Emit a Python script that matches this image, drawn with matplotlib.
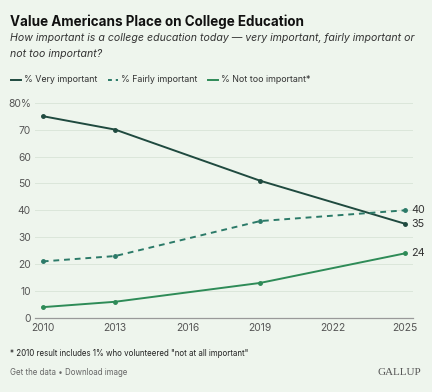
import matplotlib.pyplot as plt

years = [2010, 2013, 2019, 2025]
very = [75, 70, 51, 35]
fairly = [21, 23, 36, 40]
not_too = [4, 6, 13, 24]

x_ticks = [2010, 2013, 2016, 2019, 2022, 2025]
y_ticks = [0, 10, 20, 30, 40, 50, 60, 70, 80]
y_labels = ["0", "10", "20", "30", "40", "50", "60", "70", "80%"]

BG = "#eef5ed"
C_VERY = "#1f4a3f"
C_FAIR = "#2b7a68"
C_NOT = "#2e8b57"

plt.rcParams['font.family'] = ['Inter', 'DejaVu Sans']

fig = plt.figure(figsize=(4.32, 3.92), dpi=100, facecolor=BG)
ax = fig.add_axes([0.081, 0.189, 0.875, 0.549], facecolor=BG)

ax.plot(years, very, color=C_VERY, lw=1.4, marker='o', ms=2.5)
ax.plot(years, fairly, color=C_FAIR, lw=1.4, ls=(0, (3, 2.5)), marker='o', ms=2.5)
ax.plot(years, not_too, color=C_NOT, lw=1.4, marker='o', ms=2.5)

for vals in (fairly, very, not_too):
    ax.text(years[-1] + 0.25, vals[-1], str(vals[-1]), fontsize=7.8,
            color="#333333", va='center', ha='left')

ax.set_xlim(2009.68, 2025.33)
ax.set_ylim(0, 80)
ax.set_xticks(x_ticks)
ax.set_yticks(y_ticks)
ax.set_yticklabels(y_labels)
ax.tick_params(axis='both', length=0, labelsize=7.4, labelcolor="#555555")
ax.tick_params(axis='y', pad=3)
ax.tick_params(axis='x', pad=4)
ax.grid(axis='y', color="#dbe6da", lw=0.7)
ax.set_axisbelow(True)
for s in ['top', 'right', 'left']:
    ax.spines[s].set_visible(False)
ax.spines['bottom'].set_color("#999999")
ax.spines['bottom'].set_linewidth(0.9)

fig.text(0.023, 0.944, "Value Americans Place on College Education",
         fontsize=9.7, fontweight='bold', color="#111111", va='center')
fig.text(0.023, 0.902, "How important is a college education today \u2014 very important, fairly important or",
         fontsize=7.6, style='italic', color="#333333", va='center')
fig.text(0.023, 0.861, "not too important?",
         fontsize=7.6, style='italic', color="#333333", va='center')

# legend
leg_y = 0.797
items = [("% Very important", C_VERY, '-', 0.025),
         ("% Fairly important", C_FAIR, (0, (2, 2)), 0.25),
         ("% Not too important*", C_NOT, '-', 0.481)]
for label, col, ls, x0 in items:
    fig.add_artist(plt.Line2D([x0, x0 + 0.023], [leg_y, leg_y], color=col,
                              lw=1.4, ls=ls, transform=fig.transFigure))
    fig.text(x0 + 0.030, leg_y, label, fontsize=6.4, color="#333333", va='center')

fig.text(0.023, 0.097, "* 2010 result includes 1% who volunteered \"not at all important\"",
         fontsize=5.7, color="#222222", va='center')
fig.text(0.023, 0.050, "Get the data \u2022 Download image",
         fontsize=5.7, color="#666666", va='center')
fig.text(0.975, 0.050, "GALLUP", fontsize=8, color="#555555", va='center',
         ha='right', family=['Liberation Serif', 'DejaVu Serif'])

fig.savefig("out.png", dpi=100, facecolor=BG)
